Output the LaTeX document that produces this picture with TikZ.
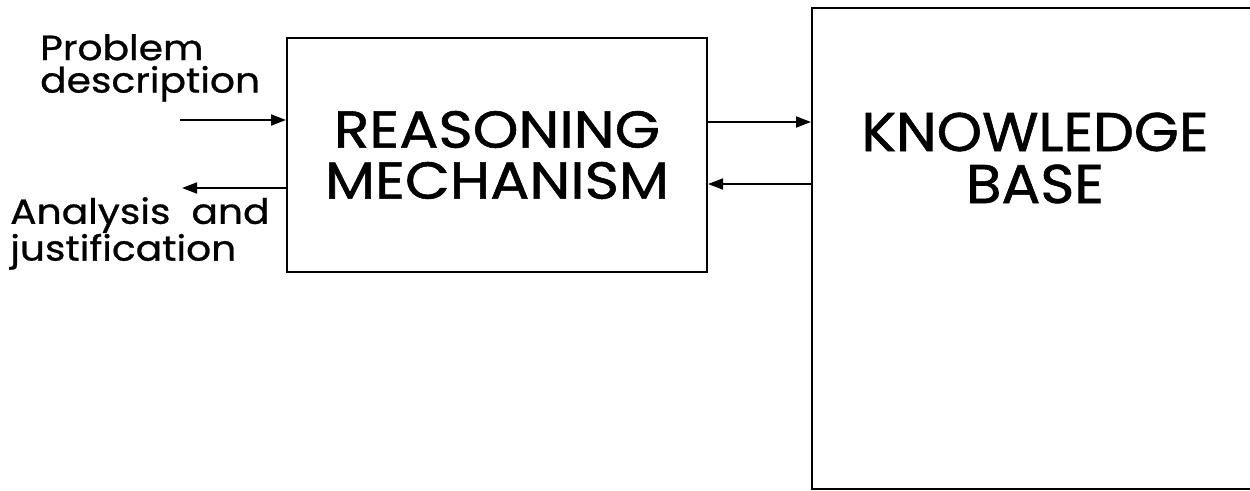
\documentclass[tikz,border=0pt]{standalone}
\usepackage{fontspec}
\setmainfont{Poppins}
\newfontfamily\mechfont{Poppins}[FakeStretch=1.12,FakeBold=1.1]
\newfontfamily\kbfont{Poppins}[FakeStretch=1.06,FakeBold=1.1]
\newfontfamily\smallfont{Poppins}[FakeStretch=1.12,FakeBold=0.8]
\usetikzlibrary{arrows.meta,calc}
\begin{document}
\begin{tikzpicture}[x=1pt,y=-1pt,
  box/.style={draw=black,line width=2pt,rectangle,inner sep=0pt},
  arr/.style={line width=1.8pt,-{Triangle[length=15pt,width=11pt]}},
  big/.style={align=center,inner sep=0pt},
  small/.style={font=\smallfont\fontsize{35}{32.5}\selectfont,align=left,inner sep=0pt,anchor=north west}]
\clip (0,0) rectangle (1250,490);
\node[box,minimum width=420pt,minimum height=234pt] (mech) at (497,155) {};
\node[big,font=\mechfont\fontsize{52}{51}\selectfont] (mechtext) at (mech.center) {REASONING\\MECHANISM};
\node[box,minimum width=446pt,minimum height=481pt] (kb) at (1035,248.5) {};
\node[big,font=\kbfont\fontsize{54.5}{52}\selectfont] (kbtext) at (1035,158) {KNOWLEDGE\\BASE};
\node[small] (prob) at (40,34) {Problem\\description};
\node[small] (anal) at (10,197) {Analysis\hspace{0.6em}and\\justification};
\coordinate (pin) at (180,120);
\coordinate (aout) at (182,188);
\draw[arr] (pin) -- (mech.west |- pin);
\draw[arr] (mech.west |- aout) -- (aout);
\draw[arr] (mech.east |- 0,122) -- (kb.west |- 0,122);
\draw[arr] (kb.west |- 0,184) -- (mech.east |- 0,184);
\end{tikzpicture}
\end{document}
